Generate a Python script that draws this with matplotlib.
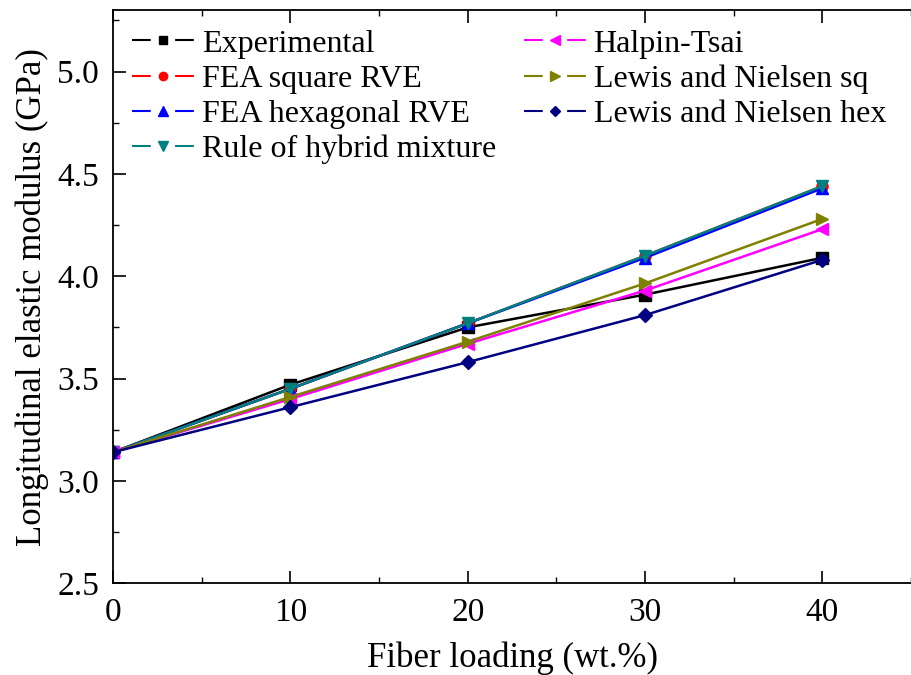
import matplotlib.pyplot as plt
from matplotlib.lines import Line2D
from matplotlib.ticker import MultipleLocator

plt.rcParams['font.family'] = ['Liberation Serif', 'DejaVu Serif']

# data
loading = [0, 10, 20, 30, 40]
experimental = [3.14, 3.47, 3.75, 3.91, 4.09]
fea_square = [3.14, 3.45, 3.77, 4.10, 4.44]
fea_hex = [3.14, 3.45, 3.77, 4.09, 4.43]
rule_hybrid = [3.14, 3.45, 3.77, 4.10, 4.44]
halpin_tsai = [3.14, 3.40, 3.67, 3.93, 4.23]
lewis_sq = [3.14, 3.41, 3.68, 3.965, 4.28]
lewis_hex = [3.14, 3.36, 3.58, 3.81, 4.08]

series = [
    ('Experimental', experimental, 'black', 's', 8),
    ('FEA square RVE', fea_square, 'red', 'o', 8),
    ('FEA hexagonal RVE', fea_hex, 'blue', '^', 9),
    ('Rule of hybrid mixture', rule_hybrid, '#008080', 'v', 9),
    ('Halpin-Tsai', halpin_tsai, 'magenta', '<', 9),
    ('Lewis and Nielsen sq', lewis_sq, '#808000', '>', 9),
    ('Lewis and Nielsen hex', lewis_hex, '#000080', 'D', 7.5),
]

fig = plt.figure(figsize=(9.12, 6.75), dpi=100)
ax = fig.add_axes([0.124, 0.136, 0.875, 0.849])

handles = []
for name, vals, col, mk, ms in series:
    ax.plot(loading, vals, color=col, marker=mk, ms=ms, lw=1.8)
    # Origin style legend symbol: line - gap/marker - line
    h = Line2D([], [], color=col, marker=mk, ms=ms - 2, lw=1.5,
               dashes=(9.0, 11.7, 9.0, 40))
    handles.append(h)

ax.set_xlim(0, 45)
ax.set_ylim(2.5, 5.3)
ax.xaxis.set_major_locator(MultipleLocator(10))
ax.xaxis.set_minor_locator(MultipleLocator(5))
ax.yaxis.set_major_locator(MultipleLocator(0.5))
ax.yaxis.set_minor_locator(MultipleLocator(0.25))
ax.yaxis.set_major_formatter(plt.FormatStrFormatter('%.1f'))
ax.tick_params(which='major', direction='in', length=9, width=1.2, labelsize=24,
               top=True, right=False, pad=10)
ax.tick_params(which='minor', direction='in', length=4.5, width=1.0,
               top=True, right=False)
ax.spines['right'].set_visible(False)
for s in ax.spines.values():
    s.set_linewidth(1.3)

ax.set_xlabel('Fiber loading (wt.%)', fontsize=25, labelpad=10)
ax.set_ylabel('Longitudinal elastic modulus (GPa)', fontsize=25, labelpad=6)

ax.legend(handles, [s[0] for s in series], ncol=2, frameon=False, fontsize=23,
          loc='upper left', bbox_to_anchor=(0.0, 1.0), handlelength=1.94,
          handletextpad=0.25, labelspacing=0.18, columnspacing=0.85,
          borderaxespad=0.3, borderpad=0.3)

fig.savefig('out.png', dpi=100)
